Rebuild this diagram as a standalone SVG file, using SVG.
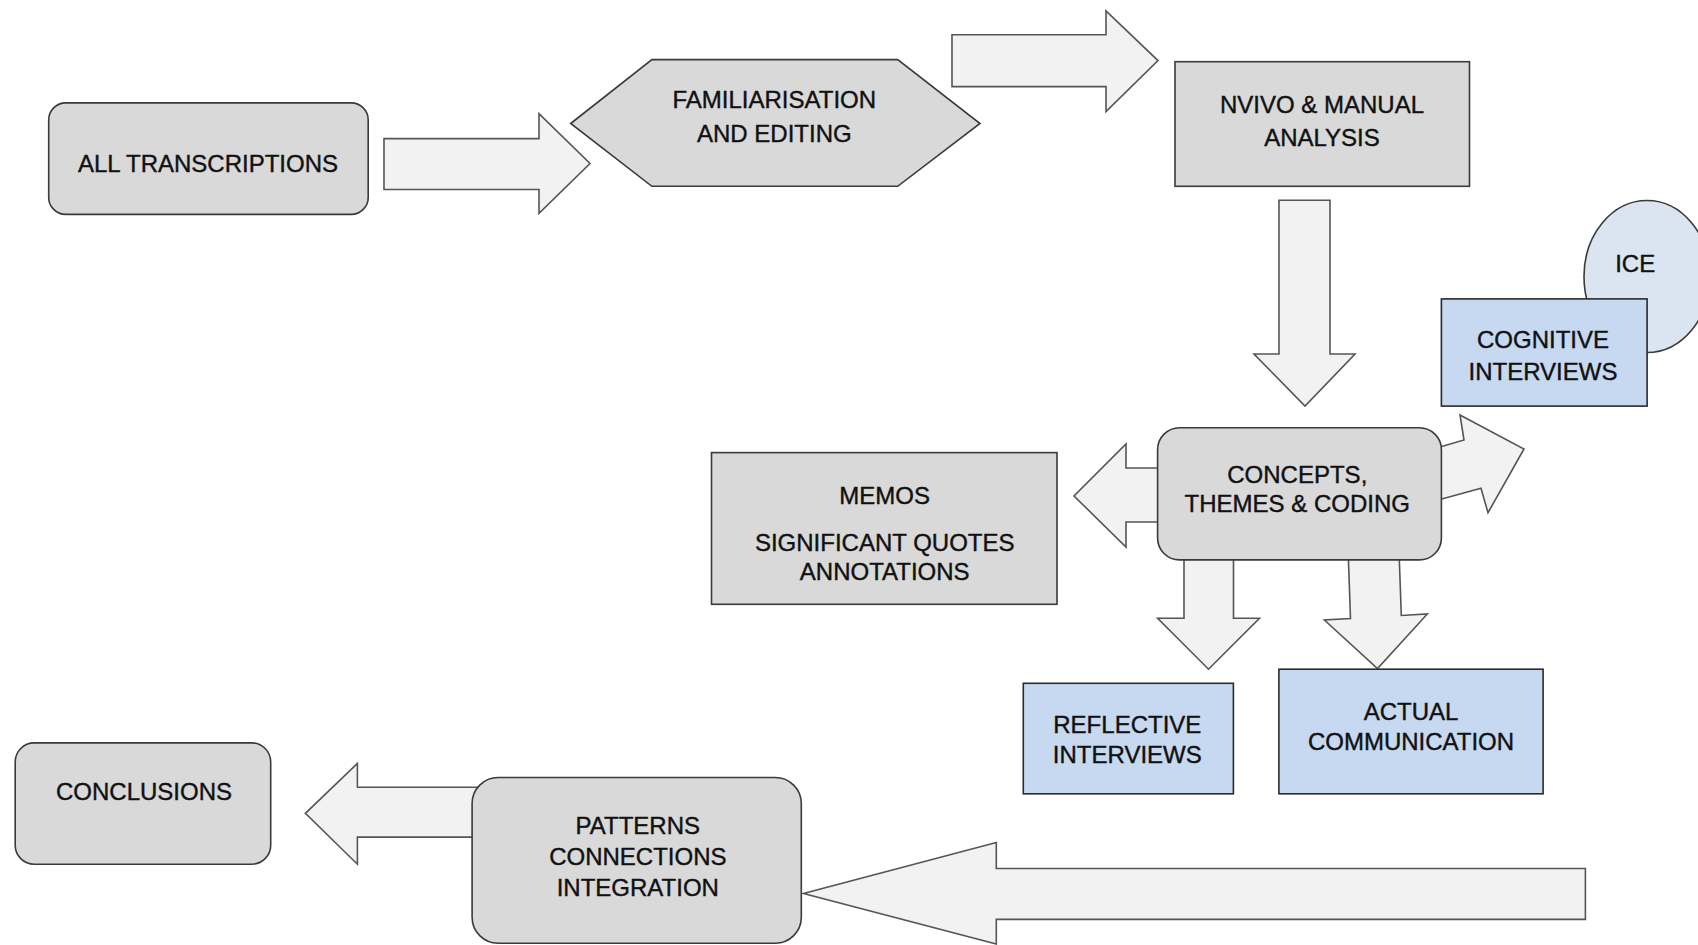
<svg xmlns="http://www.w3.org/2000/svg" width="1698" height="945" viewBox="0 0 1698 945">
<style>
.box{fill:#d9d9d9;stroke:#3a3a3a;stroke-width:1.6}
.blue{fill:#c6d9f1;stroke:#2a2a2a;stroke-width:1.6}
.ell{fill:#dbe5f1;stroke:#3a3a3a;stroke-width:1.6}
.arr{fill:#f2f2f2;stroke:#555;stroke-width:1.6;stroke-linejoin:miter}
text{font-family:"Liberation Sans",Arial,sans-serif;font-size:24px;fill:#111;stroke:#111;stroke-width:0.4;text-anchor:middle}
</style>
<rect width="1698" height="945" fill="#ffffff"/>
<g id="connectors">
  <polygon class="arr" points="384,138.6 539,138.6 539,113.7 590,163.5 539,213.3 539,189.5 384,189.5"/>
  <polygon class="arr" points="952,34.7 1106,34.7 1106,10.8 1158,60.6 1106,111.5 1106,86.6 952,86.6"/>
  <polygon class="arr" points="1279,200.3 1330,200.3 1330,354 1355,354 1305,406 1254,354 1279,354"/>
  <polygon class="arr" points="1160,468 1126,468 1126,444 1074,496 1126,547 1126,522 1160,522"/>
  <polygon class="arr" points="1440,447 1464,440 1460,415 1524,449 1488,512.7 1481,488.3 1440,499.5"/>
  <polygon class="arr" points="1184,556 1233.5,556 1233.5,618.3 1259.5,618.3 1208.5,669.2 1157.6,618.3 1184,618.3"/>
  <polygon class="arr" points="1348.3,556 1399.2,556 1401.3,615.5 1427.3,614 1377.5,668.5 1324.4,620 1350.5,618.5"/>
  <polygon class="arr" points="1585.4,868.5 996.3,868.5 996.3,842.5 803.5,893.4 996.3,944 996.3,919.4 1585.4,919.4"/>
  <polygon class="arr" points="480,787.3 357.4,787.3 357.4,763.4 305.4,813.3 357.4,864.2 357.4,837.1 480,837.1"/>
</g>
<g id="all-transcriptions">
  <rect class="box" x="48.7" y="102.9" width="319.5" height="111.5" rx="17"/>
  <text x="208" y="172">ALL TRANSCRIPTIONS</text>
</g>
<g id="familiarisation">
  <polygon class="box" points="570.7,123.5 651.9,59.6 897.7,59.6 980,123.5 897.7,186.3 651.9,186.3"/>
  <text x="774.3" y="108.2">FAMILIARISATION</text>
  <text x="774.3" y="141.8">AND EDITING</text>
</g>
<g id="nvivo">
  <rect class="box" x="1175" y="61.7" width="294.5" height="124.6"/>
  <text x="1322" y="112.6">NVIVO &amp; MANUAL</text>
  <text x="1322" y="146.1">ANALYSIS</text>
</g>
<g id="ice">
  <ellipse class="ell" cx="1647" cy="276.5" rx="63" ry="76"/>
  <text x="1635.2" y="271.6">ICE</text>
</g>
<g id="cognitive-interviews">
  <rect class="blue" x="1441.4" y="298.9" width="205.7" height="107.2"/>
  <text x="1543" y="347.6">COGNITIVE</text>
  <text x="1543" y="380">INTERVIEWS</text>
</g>
<g id="concepts">
  <rect class="box" x="1157.6" y="427.7" width="283.8" height="132.2" rx="22"/>
  <text x="1297.3" y="482.9">CONCEPTS,</text>
  <text x="1297.3" y="512.2">THEMES &amp; CODING</text>
</g>
<g id="memos">
  <rect class="box" x="711.5" y="452.6" width="345.5" height="151.7"/>
  <text x="884.7" y="503.5">MEMOS</text>
  <text x="884.7" y="551.1">SIGNIFICANT QUOTES</text>
  <text x="884.7" y="580.4">ANNOTATIONS</text>
</g>
<g id="reflective-interviews">
  <rect class="blue" x="1023.3" y="683.3" width="210.1" height="110.5"/>
  <text x="1127.3" y="733.1">REFLECTIVE</text>
  <text x="1127.3" y="763.4">INTERVIEWS</text>
</g>
<g id="actual-communication">
  <rect class="blue" x="1278.9" y="669.2" width="264.2" height="124.6"/>
  <text x="1411" y="720.1">ACTUAL</text>
  <text x="1411" y="750.4">COMMUNICATION</text>
</g>
<g id="patterns">
  <rect class="box" x="472.1" y="777.5" width="329.2" height="165.7" rx="26"/>
  <text x="637.8" y="833.8">PATTERNS</text>
  <text x="637.8" y="865.2">CONNECTIONS</text>
  <text x="637.8" y="895.5">INTEGRATION</text>
</g>
<g id="conclusions">
  <rect class="box" x="15.2" y="742.9" width="255.5" height="121.3" rx="19"/>
  <text x="144" y="800.2">CONCLUSIONS</text>
</g>
</svg>
